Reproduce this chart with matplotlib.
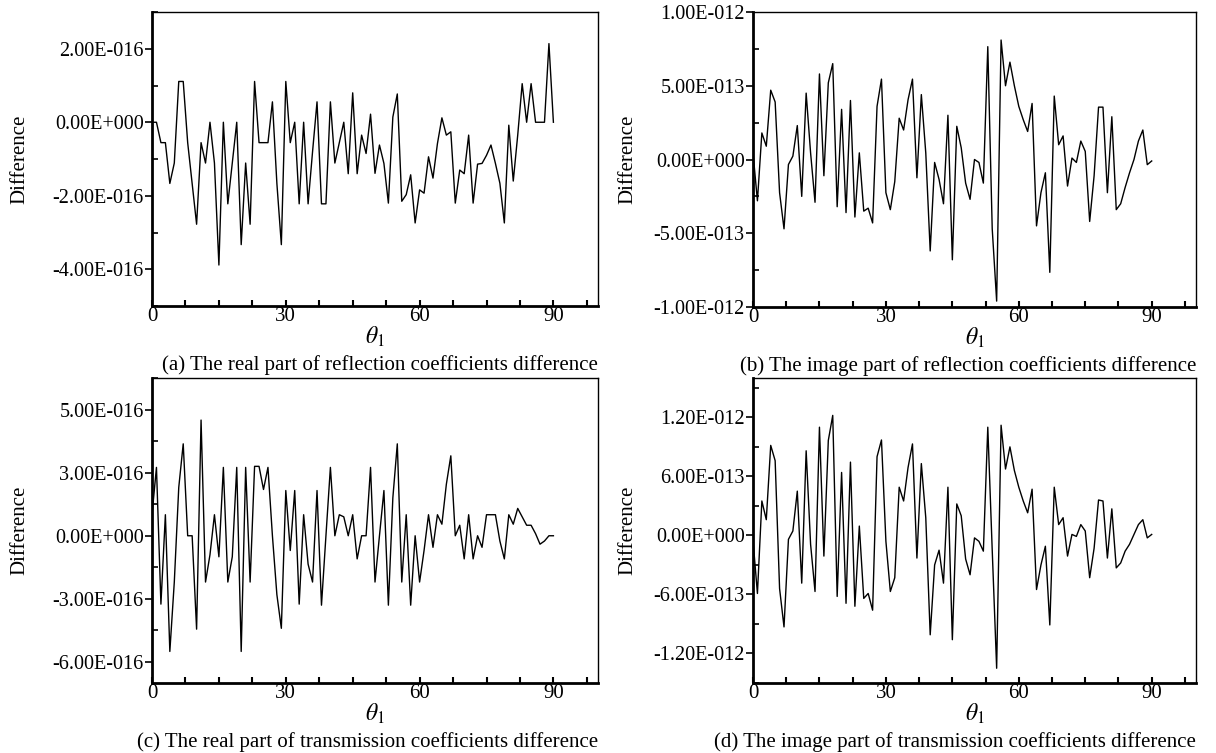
import numpy as np
import matplotlib
matplotlib.use("Agg")
import matplotlib.pyplot as plt
from matplotlib.ticker import FixedLocator, MultipleLocator

plt.rcParams['font.family'] = ['Liberation Serif', 'DejaVu Serif']
plt.rcParams['mathtext.fontset'] = 'stix'

# incidence angle, degrees
theta = np.arange(0, 91, 1)

# (a) real part of reflection coefficient difference, units of 1E-16
real_r = [0, 0, -0.555, -0.555, -1.665, -1.11, 1.11, 1.11, -0.555, -1.665,
          -2.775, -0.555, -1.11, 0, -1.11, -3.885, 0, -2.22, -1.11, 0,
          -3.33, -1.11, -2.775, 1.11, -0.555, -0.555, -0.555, 0.555, -1.665, -3.33,
          1.11, -0.555, 0, -2.22, 0, -2.22, -0.8, 0.555, -2.22, -2.22,
          0.555, -1.11, -0.555, 0, -1.4, 0.8, -1.4, -0.35, -0.85, 0.22,
          -1.39, -0.62, -1.12, -2.2, 0.14, 0.77, -2.15, -1.97, -1.43, -2.74,
          -1.84, -1.93, -0.94, -1.52, -0.58, 0.12, -0.35, -0.26, -2.2, -1.3,
          -1.4, -0.35, -2.2, -1.14, -1.12, -0.9, -0.62, -1.12, -1.66, -2.74,
          -0.08, -1.6, -0.35, 1.05, 0, 1.05, 0, 0, 0, 2.14,
          0]

# (b) image part of reflection coefficient difference, units of 1E-13
imag_r = [0.45, -2.8, 1.8, 0.9, 4.7, 3.9, -2.25, -4.7, -0.34, 0.23,
          2.3, -2.5, 4.5, 0.45, -2.9, 5.8, -1.1, 5.2, 6.5, -3.2,
          3.4, -3.6, 4.0, -3.9, 0.45, -3.5, -3.3, -4.3, 3.6, 5.45,
          -2.25, -3.4, -1.5, 2.8, 2.0, 4.05, 5.45, -1.24, 4.4, 0.45,
          -6.2, -0.2, -1.35, -3.0, 3.0, -6.8, 2.25, 0.8, -1.6, -2.7,
          0, -0.2, -1.6, 7.65, -4.7, -9.6, 8.1, 5.0, 6.6, 5.0,
          3.6, 2.7, 1.9, 3.8, -4.5, -2.25, -0.9, -7.65, 4.3, 1.0,
          1.6, -1.8, 0.1, -0.2, 1.25, 0.55, -4.2, -1.1, 3.55, 3.55,
          -2.25, 2.9, -3.4, -3.0, -1.9, -0.9, 0, 1.25, 2.0, -0.35,
          -0.1]

# (c) real part of transmission coefficient difference, units of 1E-16
real_t = [1.0, 3.25, -3.25, 1.0, -5.5, -2.2, 2.3, 4.37, 0, 0,
          -4.44, 5.5, -2.2, -0.9, 1.0, -1.0, 3.25, -2.2, -1.0, 3.25,
          -5.5, 3.25, -2.2, 3.3, 3.3, 2.2, 3.25, 0, -2.8, -4.4,
          2.15, -0.7, 2.15, -3.25, 1.0, -1.35, -2.2, 2.15, -3.3, 0,
          3.25, 0, 1.0, 0.9, 0, 1.0, -1.1, 0, 0, 3.25,
          -2.2, 0, 2.15, -3.3, 1.8, 4.37, -2.2, 1.0, -3.3, 0,
          -2.2, -0.7, 1.0, -0.55, 1.0, 0.55, 2.45, 3.8, 0, 0.5,
          -1.1, 1.0, -1.1, 0, -0.55, 1.0, 1.0, 1.0, -0.25, -1.1,
          1.0, 0.55, 1.3, 0.9, 0.5, 0.5, 0.1, -0.4, -0.25, 0,
          0]

# (d) image part of transmission coefficient difference, units of 1E-13
imag_t = [-0.5, -5.9, 3.5, 1.6, 9.15, 7.6, -5.4, -9.3, -0.4, 0.45,
          4.5, -4.85, 8.6, -0.9, -5.7, 11.0, -2.1, 9.65, 12.2, -6.2,
          6.4, -6.9, 7.45, -7.2, 0.95, -6.4, -5.9, -7.6, 8.0, 9.7,
          -0.6, -5.7, -4.3, 4.9, 3.5, 6.9, 9.3, -2.3, 7.3, 1.8,
          -10.1, -3.0, -1.5, -4.85, 4.9, -10.6, 3.2, 2.0, -2.4, -4.0,
          -0.25, -0.6, -1.6, 11.0, -1.5, -13.5, 11.2, 6.75, 9.0, 6.6,
          4.9, 3.5, 2.3, 4.7, -5.5, -3.0, -1.1, -9.1, 4.9, 1.1,
          1.8, -2.1, 0.1, -0.1, 1.1, 0.45, -4.3, -1.3, 3.6, 3.5,
          -2.3, 2.7, -3.3, -2.8, -1.6, -0.9, 0.1, 1.1, 1.6, -0.25,
          0.1]

captions = ['(a) The real part of reflection coefficients difference',
            '(b) The image part of reflection coefficients difference',
            '(c) The real part of transmission coefficients difference',
            '(d) The image part of transmission coefficients difference']

ytick_vals = [[2e-16, 0, -2e-16, -4e-16],
              [1e-12, 5e-13, 0, -5e-13, -1e-12],
              [6e-16, 3e-16, 0, -3e-16, -6e-16],
              [1.2e-12, 6e-13, 0, -6e-13, -1.2e-12]]
ytick_text = [['2.00E-016', '0.00E+000', '-2.00E-016', '-4.00E-016'],
              ['1.00E-012', '5.00E-013', '0.00E+000', '-5.00E-013', '-1.00E-012'],
              ['5.00E-016', '3.00E-016', '0.00E+000', '-3.00E-016', '-6.00E-016'],
              ['1.20E-012', '6.00E-013', '0.00E+000', '-6.00E-013', '-1.20E-012']]
yminor = [1e-16, 2.5e-13, 1.5e-16, 3e-13]
ylims = [(-5e-16, 3e-16), (-1e-12, 1e-12), (-7e-16, 7.5e-16), (-1.5e-12, 1.6e-12)]

series = [np.array(real_r) * 1e-16, np.array(imag_r) * 1e-13,
          np.array(real_t) * 1e-16, np.array(imag_t) * 1e-13]

W, H = 1216, 753
fig = plt.figure(figsize=(W / 100, H / 100), dpi=100)

# axes boxes in pixels: left, top, right, bottom
boxes = [(152, 12, 598, 306), (753, 12, 1196, 307),
         (152, 378, 598, 683), (753, 378, 1196, 683)]
ylabel_x = [29, 637, 29, 637]

for i, (l, t, r, b) in enumerate(boxes):
    ax = fig.add_axes([l / W, 1 - b / H, (r - l) / W, (b - t) / H])
    ax.plot(theta, series[i], color='black', lw=1.0)
    ax.set_xlim(0, 100)
    ax.set_ylim(*ylims[i])

    ax.xaxis.set_major_locator(FixedLocator([0, 30, 60, 90]))
    ax.xaxis.set_minor_locator(MultipleLocator(7.5))
    ax.yaxis.set_major_locator(FixedLocator(ytick_vals[i]))
    ax.set_yticklabels(ytick_text[i])
    ax.yaxis.set_minor_locator(MultipleLocator(yminor[i]))

    ax.tick_params(axis='x', which='both', direction='in', length=4, width=1.5,
                   labelsize=15, pad=1)
    ax.tick_params(axis='y', which='major', direction='out', length=5, width=1.2,
                   labelsize=14.5, pad=1)
    ax.tick_params(axis='y', which='minor', direction='in', length=4, width=1.2)

    for side in ['left', 'bottom']:
        ax.spines[side].set_linewidth(2.0)
    for side in ['right', 'top']:
        ax.spines[side].set_linewidth(1.0)

    ax.set_ylabel('Difference', fontsize=15)
    ax.yaxis.set_label_coords((ylabel_x[i] - l) / (r - l), 0.5)
    ax.set_xlabel(r'$\theta_1$', fontsize=17, labelpad=-1)

    fig.text(r / W, 1 - (b + 59) / H, captions[i], ha='right', va='center',
             fontsize=15)

fig.savefig('out.png', dpi=100)
